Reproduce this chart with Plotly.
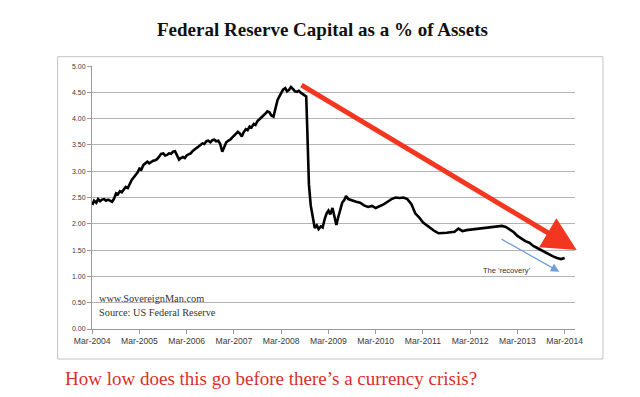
import pandas as pd
import plotly.graph_objects as go

# ---- data (% of assets) ----
pre_dates = pd.date_range("2004-03-01", "2008-09-01", freq="SMS")
pre_vals = [
    2.36, 2.44, 2.40, 2.47, 2.43, 2.46, 2.47, 2.44, 2.46, 2.44, 2.42, 2.47, 2.58, 2.56, 2.62, 2.60, 2.66, 2.70, 2.68, 2.76,
    2.84, 2.88, 2.93, 2.98, 3.05, 3.03, 3.12, 3.15, 3.18, 3.15, 3.18, 3.20, 3.21, 3.23, 3.28, 3.33, 3.34, 3.30, 3.31, 3.34, 3.33, 3.37, 3.38, 3.30,
    3.22, 3.25, 3.27, 3.25, 3.30, 3.32, 3.34, 3.38, 3.42, 3.44, 3.47, 3.50, 3.53, 3.52, 3.57, 3.58, 3.55, 3.59, 3.60, 3.57, 3.58, 3.52, 3.37, 3.45,
    3.55, 3.58, 3.60, 3.64, 3.68, 3.72, 3.75, 3.72, 3.66, 3.74, 3.80, 3.78, 3.85, 3.83, 3.90, 3.88, 3.96, 3.99, 4.02, 4.06, 4.10, 4.14, 4.12, 4.06,
    4.04, 4.20, 4.35, 4.42, 4.48, 4.55, 4.58, 4.52, 4.55, 4.60, 4.56, 4.52, 4.51, 4.53, 4.49, 4.46, 4.44,
]
crash_dates = [
    "2008-09-10", "2008-09-17", "2008-09-24", "2008-10-01", "2008-10-15", "2008-11-01", "2008-11-15",
    "2008-12-01", "2008-12-15", "2009-01-01", "2009-01-15", "2009-02-01", "2009-02-15", "2009-03-01",
    "2009-03-15", "2009-04-01", "2009-04-15", "2009-05-01", "2009-05-15", "2009-06-01", "2009-06-15",
    "2009-07-01", "2009-07-15", "2009-08-01", "2009-09-01", "2009-10-01", "2009-11-01", "2009-12-01",
    "2010-01-01", "2010-02-01", "2010-03-01",
]
crash_vals = [
    4.42, 3.90, 3.20, 2.75, 2.35, 2.10, 1.92,
    1.97, 1.90, 1.95, 1.93, 2.10, 2.20, 2.25,
    2.18, 2.30, 2.15, 1.98, 2.12, 2.28, 2.40,
    2.45, 2.53, 2.47, 2.44, 2.42, 2.40, 2.35,
    2.32, 2.34, 2.30,
]
post_dates = pd.date_range("2010-04-01", "2014-03-01", freq="MS")
post_vals = [
    2.33, 2.37, 2.42, 2.47, 2.50, 2.49, 2.50, 2.47, 2.38,
    2.20, 2.12, 2.03, 1.97, 1.91, 1.86, 1.82, 1.82, 1.83, 1.84, 1.85, 1.91,
    1.86, 1.88, 1.89, 1.90, 1.91, 1.92, 1.93, 1.94, 1.95, 1.96, 1.96, 1.94,
    1.89, 1.84, 1.77, 1.71, 1.67, 1.64, 1.58, 1.54, 1.50, 1.45, 1.41, 1.38,
    1.35, 1.33, 1.35,
]

dates = list(pre_dates) + list(pd.to_datetime(crash_dates)) + list(post_dates)
values = pre_vals + crash_vals + post_vals

y_ticks = [0, 0.5, 1, 1.5, 2, 2.5, 3, 3.5, 4, 4.5, 5]

title_text = "<b>Federal Reserve Capital as a % of Assets</b>"
question_text = "How low does this go before there\u2019s a currency crisis?"
site_text = "www.SovereignMan.com"
source_text = "Source: US Federal Reserve"
recovery_text = "The \u2018recovery\u2019"

# ---- layout geometry (pixels) ----
W, H = 640, 397
ML, MR, MT, MB = 92, 65, 66, 68
PW, PH = W - ML - MR, H - MT - MB


def px(x):
    return (x - ML) / PW


def py(y):
    return (H - MB - y) / PH


fig = go.Figure()
fig.add_trace(go.Scatter(
    x=dates, y=values, mode="lines",
    line=dict(color="black", width=2.6),
    hoverinfo="skip", showlegend=False,
))

fig.update_layout(
    width=W, height=H,
    margin=dict(l=ML, r=MR, t=MT, b=MB),
    paper_bgcolor="white", plot_bgcolor="white",
    showlegend=False,
)
fig.update_xaxes(
    type="date",
    range=["2004-02-28", "2014-05-20"],
    tick0="2004-03-01", dtick="M12", tickformat="%b-%Y",
    showgrid=False, showline=True, linecolor="#9a9a9a", linewidth=1,
    ticks="outside", ticklen=4, tickcolor="#9a9a9a",
    tickfont=dict(family="Liberation Sans, Arial", size=8.6, color="#3a3a3a"),
    zeroline=False,
)
fig.update_yaxes(
    range=[0, 5.001], tickvals=y_ticks, tickformat=".2f", ticksuffix="%",
    showgrid=True, gridcolor="#b4b4b4", gridwidth=1,
    showline=True, linecolor="#9a9a9a", linewidth=1,
    ticks="outside", ticklen=4, tickcolor="#9a9a9a",
    tickfont=dict(family="Liberation Sans, Arial", size=7, color="#3a3a3a"),
    zeroline=False,
)

# chart box border
fig.add_shape(type="rect", xref="paper", yref="paper",
              x0=px(57.6), x1=px(603), y0=py(359), y1=py(56.7),
              line=dict(color="#c4c4c4", width=1), layer="below")

# title
fig.add_annotation(xref="paper", yref="paper", x=px(322), y=py(30),
                   text=title_text, showarrow=False, xanchor="center", yanchor="middle",
                   font=dict(family="Liberation Serif, Times New Roman", size=19, color="#111111"))
# red question
fig.add_annotation(xref="paper", yref="paper", x=px(63), y=py(378),
                   text=question_text, showarrow=False, xanchor="left", yanchor="middle",
                   font=dict(family="Liberation Serif, Times New Roman", size=19, color="#d8302a"))
# watermark
fig.add_annotation(xref="paper", yref="paper", x=px(97), y=py(298),
                   text=site_text, showarrow=False, xanchor="left", yanchor="middle",
                   font=dict(family="Liberation Serif, Times New Roman", size=10.3, color="#333333"))
fig.add_annotation(xref="paper", yref="paper", x=px(97), y=py(312.6),
                   text=source_text, showarrow=False, xanchor="left", yanchor="middle",
                   font=dict(family="Liberation Serif, Times New Roman", size=10.3, color="#333333"))
# recovery label
fig.add_annotation(xref="paper", yref="paper", x=px(506.5), y=py(270.7),
                   text=recovery_text, showarrow=False, xanchor="center", yanchor="middle",
                   font=dict(family="Liberation Sans, Arial", size=7.5, color="#333333"))

# big red arrow
fig.add_annotation(xref="paper", yref="paper", x=px(576.7), y=py(250),
                   ax=300 - 576.7, ay=84.3 - 250, axref="pixel", ayref="pixel",
                   text="", showarrow=True, arrowhead=2, arrowsize=1.35, arrowwidth=5,
                   arrowcolor="#f2361f", standoff=0)
# small blue arrow
fig.add_annotation(xref="paper", yref="paper", x=px(559.3), y=py(271.7),
                   ax=500 - 559.3, ay=238.3 - 271.7, axref="pixel", ayref="pixel",
                   text="", showarrow=True, arrowhead=2, arrowsize=1.3, arrowwidth=1.3,
                   arrowcolor="#6f9fd8", standoff=0)

fig.write_html("out.html", config={"displayModeBar": False},
               post_script="document.body.style.margin='0';document.body.style.padding='0';")
